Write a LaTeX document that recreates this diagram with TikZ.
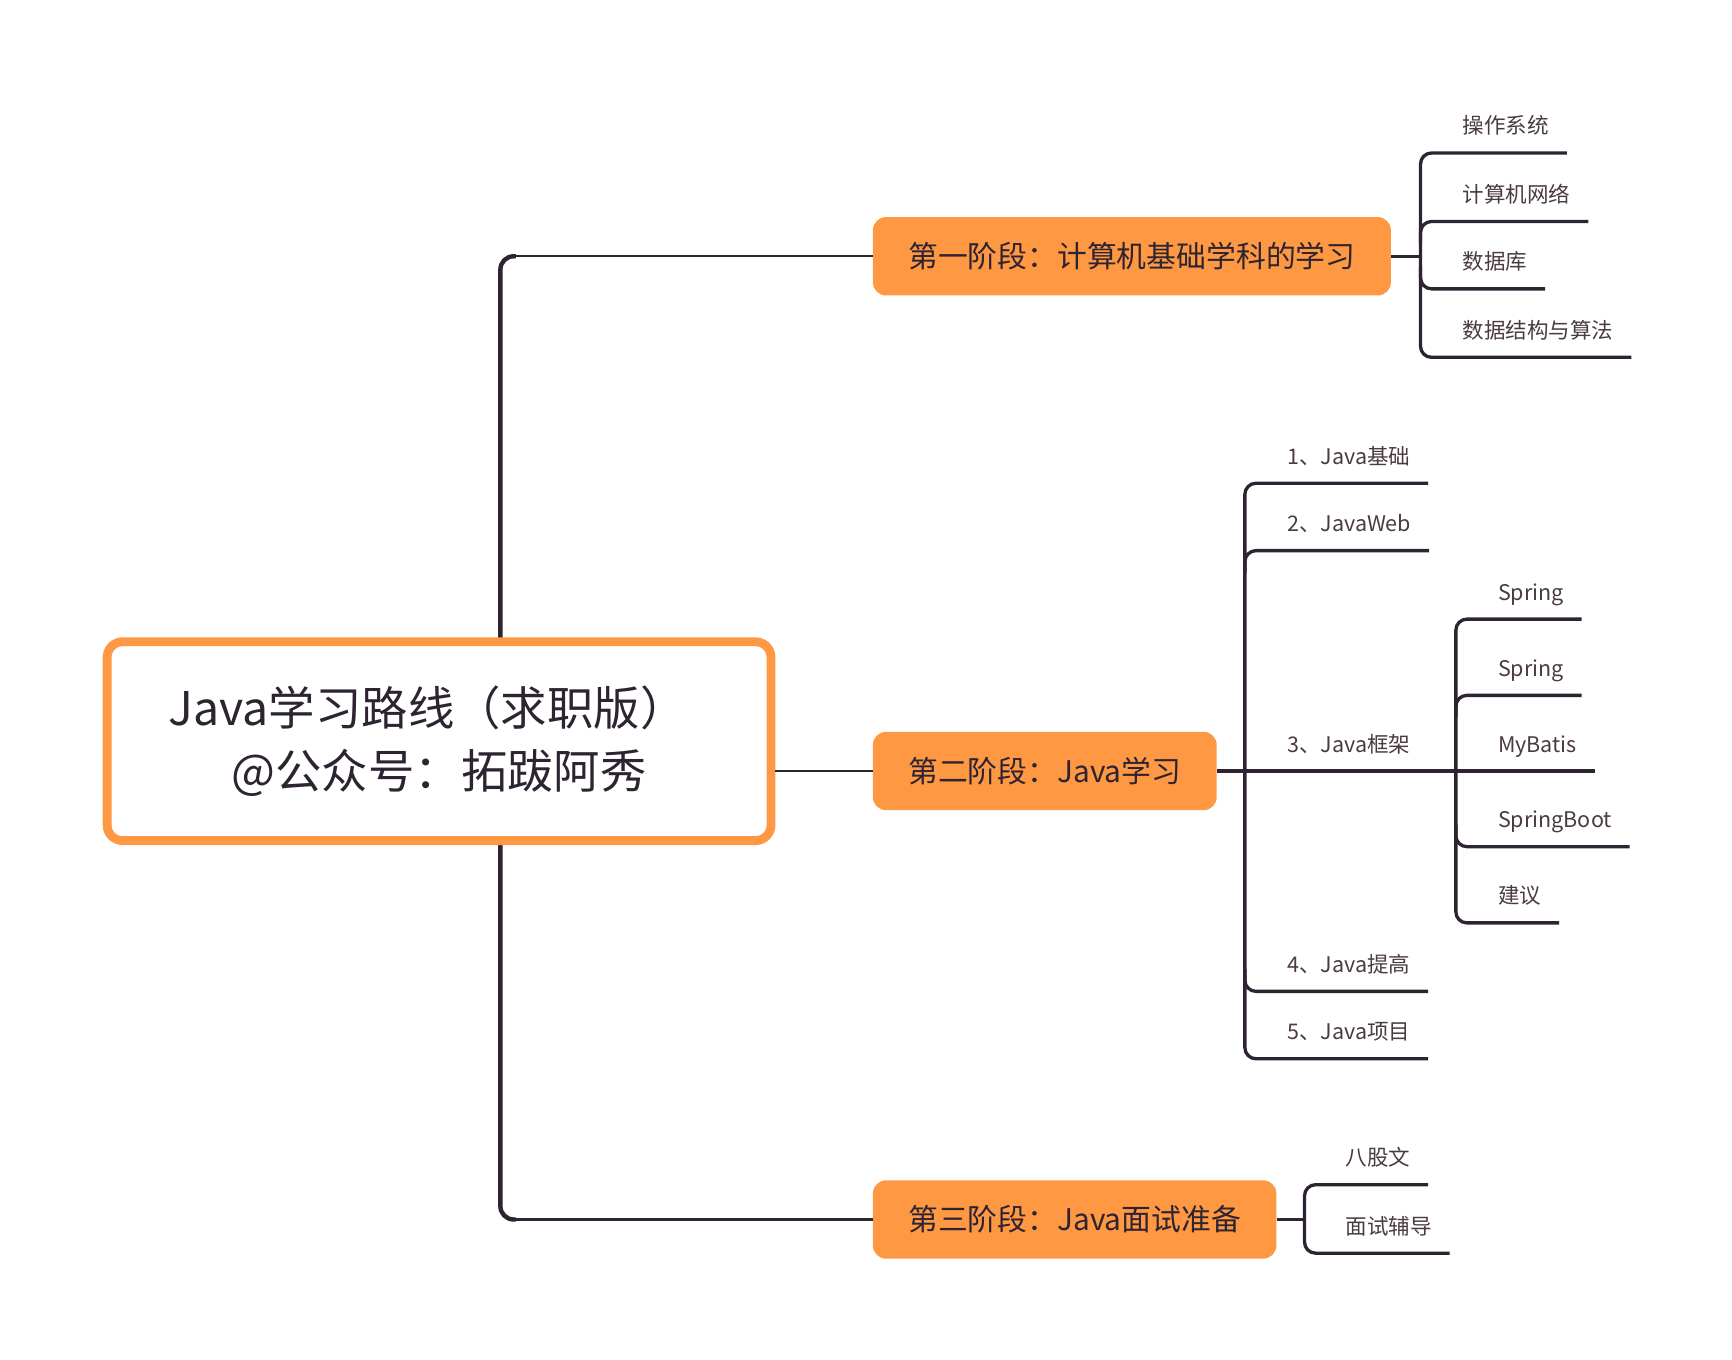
\documentclass[tikz,border=0pt]{standalone}
\usepackage{fontspec}
\newfontfamily\cjk{Noto Sans CJK SC}
\usetikzlibrary{calc}
\definecolor{orng}{HTML}{FF9843}
\definecolor{ink}{HTML}{2E2431}
\definecolor{ink2}{HTML}{4A3B42}
\begin{document}
\begin{tikzpicture}[x=1pt,y=-1pt,
  topic/.style={fill=orng, rounded corners=12pt, minimum height=71pt, inner xsep=32pt, inner ysep=0pt, anchor=west, text=ink, font=\cjk\fontsize{27}{32}\selectfont},
  leaf/.style={anchor=west, inner sep=0pt, text=ink2, font=\cjk\fontsize{19.5}{24}\selectfont, text height=17pt, text depth=2.5pt},
  br/.style={draw=ink, line width=3pt, rounded corners=10pt},
  thinlink/.style={draw=ink, line width=2pt},
  trunk/.style={draw=ink, line width=4pt, rounded corners=12pt}]
\useasboundingbox (0,0) rectangle (1568,1231);

% topic boxes
\node[topic] (box1) at (790,232) {第一阶段：计算机基础学科的学习};
\node[topic] (box2) at (790,698) {第二阶段：Java学习};
\node[topic] (box3) at (790,1104) {第三阶段：Java面试准备};

% trunk
\coordinate (tkTop) at (453,232);
\coordinate (tkBot) at (453,1104);
\draw[thinlink] (box1.west) -- ($(tkTop)+(10,0)$);
\draw[thinlink] (box3.west) -- ($(tkBot)+(10,0)$);
\draw[trunk] ($(tkTop)+(14,0)$) -- (tkTop) -- (tkBot) -- ($(tkBot)+(14,0)$);

% root
\node[draw=orng, line width=8pt, fill=white, rounded corners=14pt, minimum width=601pt, minimum height=180pt, align=center, text=ink, inner sep=0pt, font=\cjk\fontsize{42}{57}\selectfont] (root) at (397.5,671) {Java学习路线（求职版）\kern21pt\\@公众号：拓跋阿秀};
\draw[thinlink] (box2.west -| root.east) -- (box2.west);

% stage 1 leaves
\node[leaf] (os) at (1324,114) {操作系统};
\node[leaf] (net) at (1324,176) {计算机网络};
\node[leaf] (db) at (1324,237) {数据库};
\node[leaf] (algo) at (1324,299) {数据结构与算法};
\draw[br] (box1.east) -- ($(box1.east -| os.west)+(-38,0)$);
\draw[br] ($(os.east)+(16,24.5)$) -- ($(os.west)+(-38,24.5)$) -- ($(algo.west)+(-38,24.5)$) -- ($(algo.east)+(16,24.5)$);
\draw[br] ($(net.west)+(-38,44.5)$) -- ($(net.west)+(-38,24.5)$) -- ($(net.east)+(16,24.5)$);
\draw[br] ($(db.west)+(-38,4.5)$) -- ($(db.west)+(-38,24.5)$) -- ($(db.east)+(16,24.5)$);

% stage 2 leaves
\node[leaf] (j1) at (1165,413) {1、Java基础};
\node[leaf] (j2) at (1165,474) {2、JavaWeb};
\node[leaf] (j3) at (1165,674) {3、Java框架};
\node[leaf] (j4) at (1165,873) {4、Java提高};
\node[leaf] (j5) at (1165,934) {5、Java项目};
\node[leaf] (s1) at (1356,536) {Spring};
\node[leaf] (s2) at (1356,605) {Spring};
\node[leaf] (mb) at (1356,674) {MyBatis};
\node[leaf] (sb) at (1356,742) {SpringBoot};
\node[leaf] (jy) at (1356,811) {建议};
\draw[br] (box2.east) -- ($(box2.east -| mb.east)+(16,0)$);
\draw[br] ($(j1.east)+(16,24.5)$) -- ($(j1.west)+(-38,24.5)$) -- ($(j5.west)+(-38,24.5)$) -- ($(j5.east)+(16,24.5)$);
\draw[br] ($(j2.west)+(-38,44.5)$) -- ($(j2.west)+(-38,24.5)$) -- ($(j2.east)+(16,24.5)$);
\draw[br] ($(j4.west)+(-38,4.5)$) -- ($(j4.west)+(-38,24.5)$) -- ($(j4.east)+(16,24.5)$);
\draw[br] ($(s1.east)+(16,24.5)$) -- ($(s1.west)+(-38,24.5)$) -- ($(jy.west)+(-38,24.5)$) -- ($(jy.east)+(16,24.5)$);
\draw[br] ($(s2.west)+(-38,44.5)$) -- ($(s2.west)+(-38,24.5)$) -- ($(s2.east)+(16,24.5)$);
\draw[br] ($(sb.west)+(-38,4.5)$) -- ($(sb.west)+(-38,24.5)$) -- ($(sb.east)+(16,24.5)$);

% stage 3 leaves
\node[leaf] (ba) at (1218,1048) {八股文};
\node[leaf] (ms) at (1218,1110) {面试辅导};
\draw[br] (box3.east) -- ($(box3.east -| ba.west)+(-37,0)$);
\draw[br] ($(ba.east)+(16,24.5)$) -- ($(ba.west)+(-37,24.5)$) -- ($(ms.west)+(-37,24.5)$) -- ($(ms.east)+(16,24.5)$);
\end{tikzpicture}
\end{document}
